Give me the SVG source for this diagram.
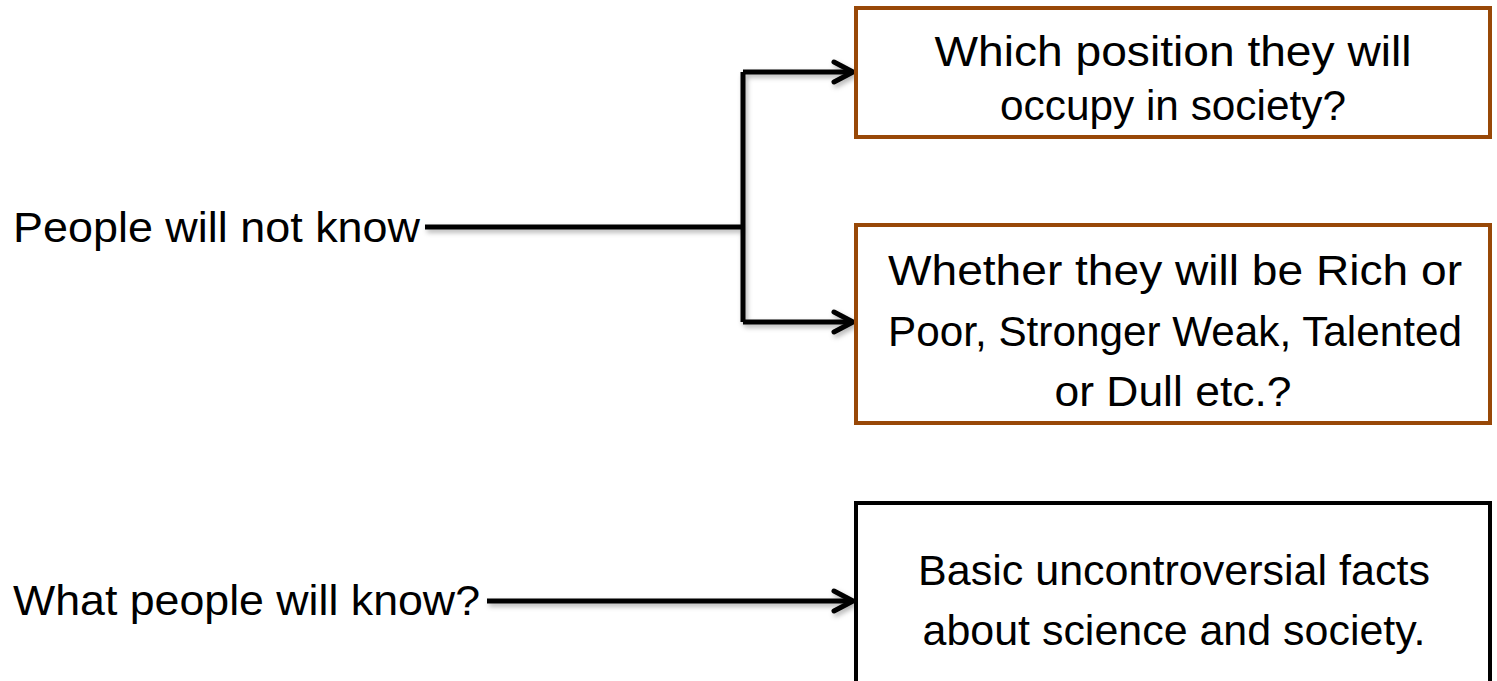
<svg xmlns="http://www.w3.org/2000/svg" width="1497" height="681" viewBox="0 0 1497 681">
<defs>
<filter id="sh" x="-5%" y="-5%" width="110%" height="110%">
<feDropShadow dx="2" dy="3" stdDeviation="2.5" flood-color="#000" flood-opacity="0.3"/>
</filter>
<marker id="arr" viewBox="0 0 30 30" refX="25" refY="15" markerWidth="30" markerHeight="30" markerUnits="userSpaceOnUse" orient="auto">
<path d="M6,5 L25,15 L6,25" fill="none" stroke="#000" stroke-width="5" stroke-linecap="round" stroke-linejoin="round"/>
</marker>
</defs>
<style>
text{font-family:"Liberation Sans",Arial,sans-serif;font-size:42px;fill:#000}
.c{text-anchor:middle}
.b{fill:#fff;stroke:#984807;stroke-width:4}
.k{fill:#fff;stroke:#000;stroke-width:4}
.ln{fill:none;stroke:#000;stroke-width:5;stroke-linejoin:round}
</style>
<g id="connectors" filter="url(#sh)">
<path class="ln" d="M425,227 L743,227"/>
<path class="ln" d="M743,72 L743,322"/>
<path class="ln" d="M743,72 L853,72" marker-end="url(#arr)"/>
<path class="ln" d="M743,322 L853,322" marker-end="url(#arr)"/>
<path class="ln" d="M487,601 L853,601" marker-end="url(#arr)"/>
</g>
<g id="n-unknown">
<text x="13" y="242" textLength="407" lengthAdjust="spacingAndGlyphs">People will not know</text>
</g>
<g id="n-known">
<text x="13" y="615" textLength="467" lengthAdjust="spacingAndGlyphs">What people will know?</text>
</g>
<g id="n-position">
<rect class="b" x="856" y="8" width="634" height="129"/>
<text class="c" x="1173" y="66" textLength="477" lengthAdjust="spacingAndGlyphs">Which position they will</text>
<text class="c" x="1173" y="120" textLength="346" lengthAdjust="spacingAndGlyphs">occupy in society?</text>
</g>
<g id="n-rich">
<rect class="b" x="856" y="225" width="634" height="198"/>
<text class="c" x="1175" y="285" textLength="574" lengthAdjust="spacingAndGlyphs">Whether they will be Rich or</text>
<text class="c" x="1175" y="346" textLength="574" lengthAdjust="spacingAndGlyphs">Poor, Stronger Weak, Talented</text>
<text class="c" x="1173" y="406" textLength="237" lengthAdjust="spacingAndGlyphs">or Dull etc.?</text>
</g>
<g id="n-facts">
<rect class="k" x="856" y="503" width="634" height="200"/>
<text class="c" x="1174" y="585" textLength="512" lengthAdjust="spacingAndGlyphs">Basic uncontroversial facts</text>
<text class="c" x="1174" y="645" textLength="503" lengthAdjust="spacingAndGlyphs">about science and society.</text>
</g>
</svg>
